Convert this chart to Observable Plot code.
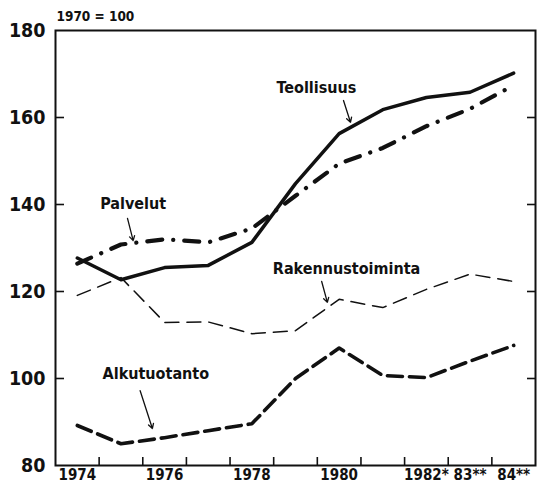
<!DOCTYPE html>
<html><head><meta charset="utf-8">
<script src="https://cdn.jsdelivr.net/npm/d3@7"></script>
<script src="https://cdn.jsdelivr.net/npm/@observablehq/plot@0.6"></script>
<style>body{margin:0;background:#fff} svg{display:block} svg text{font-stretch:condensed}</style>
</head><body><div id="chart"></div>
<script>
const years = [1974,1975,1976,1977,1978,1979,1980,1981,1982,1983,1984];
const teollisuus = [127.7,122.7,125.5,126.0,131.3,144.8,156.3,161.8,164.6,165.8,170.2];
const palvelut = [126.4,130.8,132.0,131.3,134.5,142.0,149.4,153.0,158.0,162.0,167.4];
const rakennustoiminta = [119.1,123.2,112.9,113.0,110.3,111.0,118.2,116.3,120.5,124.0,122.3];
const alkutuotanto = [89.2,85.0,86.4,88.0,89.6,100.0,107.0,100.7,100.2,104.0,107.6];

const yTickValues = [80,100,120,140,160,180];
const yInnerTicks = [100,120,140,160];
const xBoundaryTicks = [1974.5,1975.5,1976.5,1977.5,1978.5,1979.5,1980.5,1981.5,1982.5,1983.5];
const xLabelYears = [1974,1976,1978,1980,1982,1983,1984];
const xLabelTexts = ["1974","1976","1978","1980","1982*","83**","84**"];

const seriesNames = ["Teollisuus","Palvelut","Rakennustoiminta","Alkutuotanto"];
const labelX = [1979.48,1975.28,1980.17,1975.8];
const labelY = [166.7,140.2,125.3,101.1];
const arrowX1 = [1980.1,1975.15,1979.6,1975.44];
const arrowY1 = [163.9,136.8,122.3,97.2];
const arrowX2 = [1980.26,1975.28,1979.73,1975.72];
const arrowY2 = [158.9,131.7,117.5,88.5];

const unitLabel = "1970 = 100";

const rows = s => years.map((y,i) => ({year:y, value:s[i]}));
const labels = seriesNames.map((n,i) => ({name:n, x:labelX[i], y:labelY[i]}));
const arrows = seriesNames.map((n,i) => ({x1:arrowX1[i], y1:arrowY1[i], x2:arrowX2[i], y2:arrowY2[i]}));
const xLabelMap = new Map(xLabelYears.map((y,i)=>[y,xLabelTexts[i]]));

const FONT = "'DejaVu Sans Condensed','DejaVu Sans',sans-serif";

const chart = Plot.plot({
  width: 541,
  height: 491,
  marginLeft: 55,
  marginRight: 6,
  marginTop: 30,
  marginBottom: 26,
  style: {fontFamily: FONT, fontWeight: "bold", color: "#111", background: "#fff"},
  x: {domain: [1973.5, 1984.5]},
  y: {domain: [80, 180]},
  marks: [
    Plot.frame({stroke: "#111", strokeWidth: 2}),
    Plot.axisY({anchor: "left", ticks: yInnerTicks, tickSize: 9, dx: 9, tickFormat: () => "", stroke: "#111", strokeWidth: 1.6, label: null}),
    Plot.axisY({anchor: "right", ticks: yInnerTicks, tickSize: 9, dx: -9, tickFormat: () => "", stroke: "#111", strokeWidth: 1.6, label: null}),
    Plot.axisX({anchor: "bottom", ticks: xBoundaryTicks, tickSize: 8, dy: -8, tickFormat: () => "", stroke: "#111", strokeWidth: 1.6, label: null}),
    Plot.axisY({anchor: "left", ticks: yTickValues, tickSize: 0, tickPadding: 10, fontSize: 19.5, tickFormat: d => String(d), label: null}),
    Plot.axisX({anchor: "bottom", ticks: xLabelYears, tickSize: 0, tickPadding: 4, fontSize: 15, tickFormat: d => xLabelMap.get(d), label: null}),
    Plot.text([unitLabel], {frameAnchor: "top-left", dy: -19, dx: 1, text: d => d, fontSize: 13.5, fontFamily: "'DejaVu Sans',sans-serif", fontWeight: "bold", textAnchor: "start"}),
    Plot.line(rows(rakennustoiminta), {x: "year", y: "value", stroke: "#111", strokeWidth: 1.5, strokeDasharray: "14,8"}),
    Plot.line(rows(alkutuotanto), {x: "year", y: "value", stroke: "#111", strokeWidth: 3.6, strokeDasharray: "15,7"}),
    Plot.line(rows(palvelut), {x: "year", y: "value", stroke: "#111", strokeWidth: 4.2, strokeDasharray: "15,11,0.1,11", strokeLinecap: "round"}),
    Plot.line(rows(teollisuus), {x: "year", y: "value", stroke: "#111", strokeWidth: 3.5, strokeLinejoin: "round"}),
    Plot.arrow(arrows, {x1: "x1", y1: "y1", x2: "x2", y2: "y2", stroke: "#111", strokeWidth: 1.3, headLength: 6}),
    Plot.text(labels, {x: "x", y: "y", text: "name", fontSize: 16, fontWeight: "bold", fill: "#111", style: {letterSpacing: "0.8px"}})
  ]
});
document.getElementById("chart").appendChild(chart);
</script>
</body></html>
